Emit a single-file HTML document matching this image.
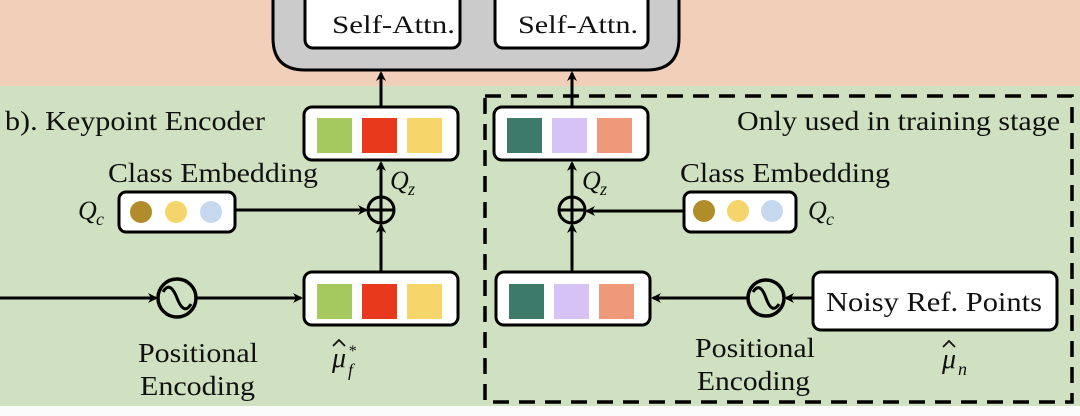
<!DOCTYPE html>
<html><head><meta charset="utf-8"><style>
html,body{margin:0;padding:0;background:#fff}
svg{display:block}
</style></head><body>
<svg width="1080" height="416" viewBox="0 0 1080 416" xmlns="http://www.w3.org/2000/svg" font-family="Liberation Serif, serif" fill="#111">
<defs>
<marker id="a" markerWidth="10" markerHeight="10" refX="8" refY="5" orient="auto" markerUnits="userSpaceOnUse">
<path d="M0,0 L10,5 L0,10 L3,5 Z" fill="#000"/></marker>
</defs>
<rect x="0" y="0" width="1080" height="86" fill="#f2cfb8"/>
<rect x="0" y="86" width="1080" height="320" fill="#cfe1c0"/>
<rect x="0" y="406" width="1080" height="10" fill="#fbfbfb"/>
<path d="M273,-10 L273,38 Q273,70 305,70 L647,70 Q679,70 679,38 L679,-10" fill="#cbcbcb" stroke="#000" stroke-width="3"/>
<rect x="305" y="-10" width="155" height="58" rx="8" fill="#fff" stroke="#000" stroke-width="3"/>
<rect x="495" y="-10" width="153" height="58" rx="8" fill="#fff" stroke="#000" stroke-width="3"/>
<text x="332" y="33" font-size="25" textLength="123" lengthAdjust="spacingAndGlyphs">Self-Attn.</text>
<text x="518" y="33" font-size="25" textLength="120" lengthAdjust="spacingAndGlyphs">Self-Attn.</text>
<rect x="485" y="96" width="587" height="306" fill="none" stroke="#000" stroke-width="3.5" stroke-dasharray="16,10"/>
<text x="5" y="130" font-size="27" textLength="260" lengthAdjust="spacingAndGlyphs">b). Keypoint Encoder</text>
<text x="737" y="130" font-size="27" textLength="323" lengthAdjust="spacingAndGlyphs">Only used in training stage</text>
<rect x="304" y="107" width="154" height="53" rx="8" fill="#fff" stroke="#000" stroke-width="3"/>
<rect x="317" y="118" width="35" height="35" fill="#a5c95f"/><rect x="362" y="118" width="35" height="35" fill="#e8391f"/><rect x="407" y="118" width="35" height="35" fill="#f6d56b"/>
<rect x="494" y="107" width="154" height="53" rx="8" fill="#fff" stroke="#000" stroke-width="3"/>
<rect x="507" y="118" width="35" height="35" fill="#3d7a6a"/><rect x="552" y="118" width="35" height="35" fill="#d7c2f5"/><rect x="597" y="118" width="35" height="35" fill="#f0987a"/>
<line x1="381" y1="107" x2="381" y2="73" stroke="#000" stroke-width="3" marker-end="url(#a)"/>
<line x1="572" y1="107" x2="572" y2="73" stroke="#000" stroke-width="3" marker-end="url(#a)"/>
<text x="108" y="182" font-size="27" textLength="210" lengthAdjust="spacingAndGlyphs">Class Embedding</text>
<text x="680" y="182" font-size="27" textLength="210" lengthAdjust="spacingAndGlyphs">Class Embedding</text>
<rect x="119" y="192" width="116" height="40" rx="7" fill="#fff" stroke="#000" stroke-width="3"/>
<circle cx="141" cy="212" r="11" fill="#b08c2a"/><circle cx="176" cy="212" r="11" fill="#f5d46b"/><circle cx="211" cy="212" r="11" fill="#c5d8f0"/>
<rect x="684" y="192" width="112" height="40" rx="7" fill="#fff" stroke="#000" stroke-width="3"/>
<circle cx="704" cy="211" r="11" fill="#b08c2a"/><circle cx="738" cy="211" r="11" fill="#f5d46b"/><circle cx="772" cy="211" r="11" fill="#c5d8f0"/>
<g font-style="italic">
<text x="78" y="219" font-size="26">Q</text><text x="96" y="225" font-size="18">c</text>
<text x="808" y="219" font-size="26">Q</text><text x="826" y="225" font-size="18">c</text>
<text x="390" y="189" font-size="26">Q</text><text x="408" y="195" font-size="18">z</text>
<text x="582" y="189" font-size="26">Q</text><text x="600" y="195" font-size="18">z</text>
</g>
<g stroke="#000" stroke-width="3" fill="none">
<circle cx="381" cy="210" r="13"/><line x1="368" y1="210" x2="394" y2="210"/><line x1="381" y1="197" x2="381" y2="223"/>
<circle cx="572" cy="210" r="13"/><line x1="559" y1="210" x2="585" y2="210"/><line x1="572" y1="197" x2="572" y2="223"/>
<line x1="381" y1="197" x2="381" y2="163" marker-end="url(#a)"/>
<line x1="572" y1="197" x2="572" y2="163" marker-end="url(#a)"/>
<line x1="235" y1="210" x2="366" y2="210" marker-end="url(#a)"/>
<line x1="684" y1="211" x2="587" y2="211" marker-end="url(#a)"/>
<line x1="381" y1="272" x2="381" y2="225" marker-end="url(#a)"/>
<line x1="572" y1="272" x2="572" y2="225" marker-end="url(#a)"/>
</g>
<rect x="304" y="272" width="154" height="53" rx="8" fill="#fff" stroke="#000" stroke-width="3"/>
<rect x="317" y="284" width="35" height="35" fill="#a5c95f"/><rect x="362" y="284" width="35" height="35" fill="#e8391f"/><rect x="407" y="284" width="35" height="35" fill="#f6d56b"/>
<rect x="496" y="272" width="154" height="53" rx="8" fill="#fff" stroke="#000" stroke-width="3"/>
<rect x="509" y="284" width="35" height="35" fill="#3d7a6a"/><rect x="554" y="284" width="35" height="35" fill="#d7c2f5"/><rect x="599" y="284" width="35" height="35" fill="#f0987a"/>
<rect x="813" y="272" width="244" height="58" rx="8" fill="#fff" stroke="#000" stroke-width="3"/>
<text x="826" y="311" font-size="27" textLength="216" lengthAdjust="spacingAndGlyphs">Noisy Ref. Points</text>
<g stroke="#000" stroke-width="3.5" fill="none">
<circle cx="177" cy="298" r="19"/>
<path d="M163,292 Q170,280 177,298 Q184,316 191,304" stroke-width="3"/>
<circle cx="766" cy="298" r="18"/>
<path d="M753,292 Q760,281 766,298 Q772,315 779,304" stroke-width="3"/>
<line x1="0" y1="298" x2="156" y2="298" stroke-width="3" marker-end="url(#a)"/>
<line x1="196" y1="298" x2="301" y2="298" stroke-width="3" marker-end="url(#a)"/>
<line x1="813" y1="298" x2="786" y2="298" stroke-width="3" marker-end="url(#a)"/>
<line x1="748" y1="298" x2="653" y2="298" stroke-width="3" marker-end="url(#a)"/>
</g>
<text x="138" y="362" font-size="27" textLength="120" lengthAdjust="spacingAndGlyphs">Positional</text>
<text x="140" y="395" font-size="27" textLength="115" lengthAdjust="spacingAndGlyphs">Encoding</text>
<text x="695" y="357" font-size="27" textLength="120" lengthAdjust="spacingAndGlyphs">Positional</text>
<text x="697" y="390" font-size="27" textLength="113" lengthAdjust="spacingAndGlyphs">Encoding</text>
<g font-style="italic">
<text x="332" y="367" font-size="28">μ</text><text x="348" y="356" font-size="16">*</text><text x="348" y="376" font-size="18">f</text>
<text x="942" y="368" font-size="28">μ</text><text x="958" y="375" font-size="18">n</text>
</g>
<path d="M333,346 L339,340 L345,346" fill="none" stroke="#111" stroke-width="1.8"/>
<path d="M943,347 L949,341 L955,347" fill="none" stroke="#111" stroke-width="1.8"/>
</svg>
</body></html>
